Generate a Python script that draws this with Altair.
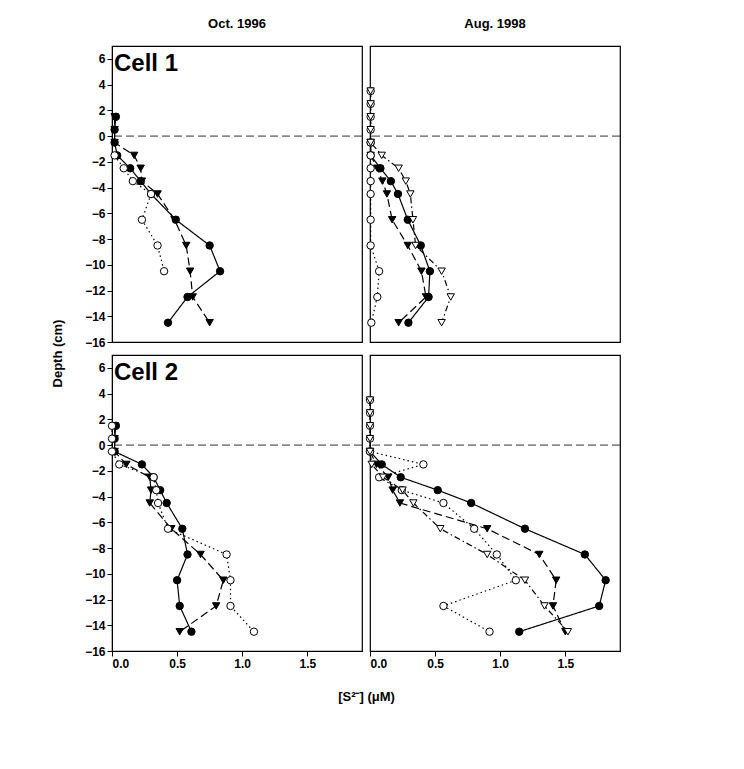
import altair as alt
import pandas as pd

# ---------------- data ----------------
depths_oct = [1.5, 0.5, -0.5, -1.5, -2.5, -3.5, -4.5, -6.5, -8.5, -10.5, -12.5, -14.5]
depths_aug = [3.5, 2.5, 1.5, 0.5, -0.5, -1.5, -2.5, -3.5, -4.5, -6.5, -8.5, -10.5, -12.5, -14.5]

# Cell 1, Oct. 1996
c1_oct_fc = [0.03, 0.02, 0.02, 0.04, 0.14, 0.22, 0.30, 0.49, 0.75, 0.83, 0.58, 0.43]
c1_oct_ft = [0.02, 0.02, 0.02, 0.17, 0.22, 0.23, 0.35, 0.48, 0.57, 0.60, 0.62, 0.75]
c1_oct_oc = [None, None, None, 0.02, 0.09, 0.16, 0.30, 0.23, 0.35, 0.40, None, None]

# Cell 1, Aug. 1998
c1_aug_fc = [None, None, None, None, 0.005, 0.005, 0.08, 0.16, 0.215, 0.29, 0.39, 0.46, 0.45, 0.295]
c1_aug_ft = [None, None, None, None, 0.005, 0.005, 0.056, 0.095, 0.13, 0.17, 0.29, 0.395, 0.43, 0.22]
c1_aug_oc = [0.005, 0.005, 0.005, 0.005, 0.005, 0.005, 0.005, 0.005, 0.005, 0.005, 0.005, 0.07, 0.056, 0.01]
c1_aug_ot = [0.005, 0.005, 0.005, 0.005, 0.005, 0.09, 0.22, 0.275, 0.31, 0.33, 0.35, 0.55, 0.62, 0.55]

# Cell 2, Oct. 1996
c2_oct_fc = [0.03, 0.02, 0.02, 0.23, 0.32, 0.37, 0.42, 0.54, 0.58, 0.50, 0.52, 0.61]
c2_oct_ft = [0.02, 0.02, 0.02, 0.11, 0.29, 0.30, 0.29, 0.455, 0.68, 0.855, 0.80, 0.52]
c2_oct_oc = [0.0, 0.0, 0.0, 0.056, 0.32, 0.34, 0.354, 0.43, 0.88, 0.91, 0.91, 1.09]

# Cell 2, Aug. 1998
c2_aug_fc = [None, None, None, None, 0.0, 0.09, 0.236, 0.52, 0.777, 1.19, 1.65, 1.81, 1.76, 1.146]
c2_aug_ft = [None, None, None, None, 0.0, 0.05, 0.14, 0.174, 0.23, 0.90, 1.30, 1.43, 1.405, 1.50]
c2_aug_oc = [0.0, 0.0, 0.0, 0.0, 0.0, 0.41, 0.07, 0.244, 0.564, 0.80, 0.974, 1.12, 0.564, 0.918]
c2_aug_ot = [0.0, 0.0, 0.0, 0.0, 0.0, 0.013, 0.10, 0.25, 0.333, 0.54, 0.90, 1.19, 1.34, 1.52]

series_names = ["fc", "ft", "oc", "ot"]
shape_range = ["circle", "triangle-down", "circle", "triangle-down"]
fill_range = ["black", "black", "white", "white"]
dash_range = [[1, 0], [8, 4], [1.5, 3], [6, 3, 1.5, 3]]

y_ticks = [-16, -14, -12, -10, -8, -6, -4, -2, 0, 2, 4, 6]
x_ticks = [0.0, 0.5, 1.0, 1.5]

FONT = "Liberation Sans Narrow, Liberation Sans, Arial"


def make_df(depths, series):
    rows = []
    for name, vals in series.items():
        for i, (d, v) in enumerate(zip(depths, vals)):
            if v is not None:
                rows.append({"series": name, "depth": d, "conc": v, "idx": i})
    return pd.DataFrame(rows)


W, H = 250, 296


def panel(df, xaxis, yaxis, label, title=None):
    xs = alt.Scale(domain=[0, 1.92], nice=False, zero=False)
    ys = alt.Scale(domain=[-16, 7], nice=False, zero=False)
    base = alt.Chart(df)
    lines = base.mark_line(color="black", strokeWidth=1.2).encode(
        x=alt.X("conc:Q", scale=xs, axis=xaxis),
        y=alt.Y("depth:Q", scale=ys, axis=yaxis),
        detail="series:N",
        order=alt.Order("idx:Q"),
        strokeDash=alt.StrokeDash("series:N", scale=alt.Scale(domain=series_names, range=dash_range), legend=None),
    )
    pts = base.mark_point(filled=True, stroke="black", strokeWidth=1, size=55, opacity=1).encode(
        x=alt.X("conc:Q", scale=xs, axis=xaxis),
        y=alt.Y("depth:Q", scale=ys, axis=yaxis),
        shape=alt.Shape("series:N", scale=alt.Scale(domain=series_names, range=shape_range), legend=None),
        fill=alt.Fill("series:N", scale=alt.Scale(domain=series_names, range=fill_range), legend=None),
    )
    zero = alt.Chart(pd.DataFrame({"z": [0]})).mark_rule(
        color="#333", strokeWidth=1, strokeDash=[8, 4]
    ).encode(y=alt.Y("z:Q", scale=ys, axis=yaxis))
    txt = alt.Chart(pd.DataFrame({"t": [label]})).mark_text(
        align="left", baseline="middle", fontSize=24, fontWeight="bold", font="Liberation Sans", color="black"
    ).encode(text="t:N", x=alt.value(2), y=alt.value(18))
    layer = alt.layer(zero, lines, pts, txt).properties(width=W, height=H)
    if title is not None:
        layer = layer.properties(
            title=alt.TitleParams(title, fontSize=13, fontWeight="bold", font=FONT, offset=15, anchor="middle", color="black")
        )
    return layer


ax_common = dict(
    grid=False, domainColor="black", tickColor="black", tickSize=5, labelPadding=2,
    labelFont=FONT, labelFontSize=12, labelFontWeight="bold", labelColor="black",
    titleFont=FONT, titleFontSize=13, titleFontWeight="bold", titleColor="black",
)

y_axis_top = alt.Axis(values=y_ticks, title="Depth (cm)", titleX=-55, titleY=307,
                      titleAlign="center", titleBaseline="middle", titleAngle=-90, **ax_common)
y_axis_bottom = alt.Axis(values=y_ticks, title=None, **ax_common)
x_axis_bottom_left = alt.Axis(values=x_ticks, format=".1f", title="[S²⁻] (μM)", titleX=254, titleY=45,
                              titleAlign="center", titleBaseline="middle", **ax_common)
x_axis_bottom_right = alt.Axis(values=x_ticks, format=".1f", title=None, **ax_common)

df1o = make_df(depths_oct, {"fc": c1_oct_fc, "ft": c1_oct_ft, "oc": c1_oct_oc})
df1a = make_df(depths_aug, {"fc": c1_aug_fc, "ft": c1_aug_ft, "oc": c1_aug_oc, "ot": c1_aug_ot})
df2o = make_df(depths_oct, {"fc": c2_oct_fc, "ft": c2_oct_ft, "oc": c2_oct_oc})
df2a = make_df(depths_aug, {"fc": c2_aug_fc, "ft": c2_aug_ft, "oc": c2_aug_oc, "ot": c2_aug_ot})

p1 = panel(df1o, None, y_axis_top, "Cell 1", "Oct. 1996")
p2 = panel(df1a, None, None, "", "Aug. 1998")
p3 = panel(df2o, x_axis_bottom_left, y_axis_bottom, "Cell 2")
p4 = panel(df2a, x_axis_bottom_right, None, "")

chart = alt.concat(p1, p2, p3, p4, columns=2, spacing=alt.RowColnumber(row=13, column=8), bounds="flush").properties(
    padding={"left": 50, "top": 17, "right": 5, "bottom": 5}
).configure(background="white").configure_view(stroke="black", strokeWidth=1.2)

chart.save("out.html", embed_options={"renderer": "svg", "actions": False})
